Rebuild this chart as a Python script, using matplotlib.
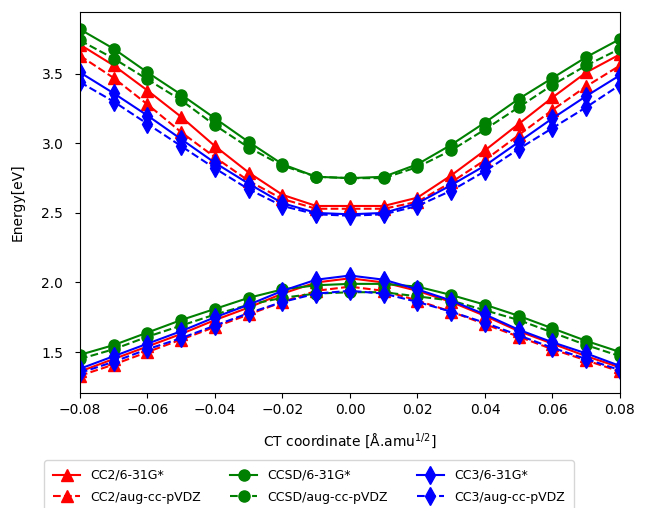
import matplotlib
matplotlib.use('Agg')
import matplotlib.pyplot as plt
import numpy as np

ct = [-0.08, -0.07, -0.06, -0.05, -0.04, -0.03, -0.02, -0.01, 0.0,
      0.01, 0.02, 0.03, 0.04, 0.05, 0.06, 0.07, 0.08]

# upper state
cc2_631_up = [3.71, 3.56, 3.38, 3.19, 2.98, 2.79, 2.63, 2.55, 2.55, 2.55, 2.61, 2.77, 2.95, 3.14, 3.33, 3.51, 3.64]
cc2_aug_up = [3.63, 3.47, 3.28, 3.08, 2.90, 2.73, 2.60, 2.53, 2.53, 2.53, 2.58, 2.72, 2.88, 3.06, 3.24, 3.41, 3.56]
ccsd_631_up = [3.82, 3.68, 3.51, 3.35, 3.18, 3.01, 2.85, 2.76, 2.75, 2.76, 2.85, 2.99, 3.15, 3.32, 3.47, 3.62, 3.75]
ccsd_aug_up = [3.74, 3.61, 3.46, 3.31, 3.13, 2.97, 2.84, 2.76, 2.75, 2.75, 2.83, 2.95, 3.10, 3.26, 3.42, 3.56, 3.68]
cc3_631_up = [3.51, 3.36, 3.20, 3.03, 2.86, 2.71, 2.57, 2.50, 2.49, 2.50, 2.57, 2.70, 2.84, 3.01, 3.18, 3.34, 3.49]
cc3_aug_up = [3.44, 3.30, 3.14, 2.98, 2.82, 2.67, 2.55, 2.49, 2.48, 2.49, 2.55, 2.66, 2.80, 2.96, 3.11, 3.26, 3.42]

# lower state
cc2_631_lo = [1.36, 1.45, 1.54, 1.63, 1.73, 1.82, 1.92, 2.00, 2.03, 2.00, 1.94, 1.86, 1.76, 1.65, 1.56, 1.47, 1.39]
cc2_aug_lo = [1.33, 1.41, 1.50, 1.59, 1.68, 1.77, 1.86, 1.94, 1.97, 1.94, 1.87, 1.79, 1.70, 1.61, 1.52, 1.44, 1.36]
ccsd_631_lo = [1.48, 1.55, 1.64, 1.73, 1.81, 1.89, 1.95, 1.98, 1.99, 1.99, 1.97, 1.91, 1.84, 1.76, 1.67, 1.58, 1.50]
ccsd_aug_lo = [1.45, 1.52, 1.61, 1.69, 1.77, 1.84, 1.89, 1.92, 1.93, 1.93, 1.90, 1.87, 1.80, 1.73, 1.64, 1.55, 1.47]
cc3_631_lo = [1.38, 1.47, 1.56, 1.65, 1.75, 1.84, 1.94, 2.02, 2.05, 2.02, 1.95, 1.87, 1.77, 1.66, 1.57, 1.49, 1.40]
cc3_aug_lo = [1.35, 1.43, 1.52, 1.60, 1.69, 1.78, 1.86, 1.92, 1.94, 1.92, 1.86, 1.79, 1.71, 1.62, 1.53, 1.45, 1.37]

series = [
	('CC2/6-31G*', cc2_631_up, cc2_631_lo, 'red', '^', '-'),
	('CC2/aug-cc-pVDZ', cc2_aug_up, cc2_aug_lo, 'red', '^', '--'),
	('CCSD/6-31G*', ccsd_631_up, ccsd_631_lo, 'green', 'o', '-'),
	('CCSD/aug-cc-pVDZ', ccsd_aug_up, ccsd_aug_lo, 'green', 'o', '--'),
	('CC3/6-31G*', cc3_631_up, cc3_631_lo, 'blue', 'd', '-'),
	('CC3/aug-cc-pVDZ', cc3_aug_up, cc3_aug_lo, 'blue', 'd', '--'),
]

fig = plt.figure(figsize=(6.54, 5.08), dpi=100)
ax = fig.add_axes([0.1223, 0.2264, 0.8257, 0.75])

for name, up, lo, col, mk, ls in series:
	ms = 9 if mk == 'd' else 8
	ax.plot(ct, up, color=col, marker=mk, ls=ls, ms=ms, lw=1.5, label=name)
	ax.plot(ct, lo, color=col, marker=mk, ls=ls, ms=ms, lw=1.5)

ax.set_xlim(-0.08, 0.08)
ax.set_xticks(np.arange(-0.08, 0.081, 0.02))
ax.set_yticks([1.5, 2.0, 2.5, 3.0, 3.5])
ax.tick_params(axis='y', pad=8.5)
ax.set_xlabel('CT coordinate [Å.amu$^{1/2}$]', labelpad=11)
ax.set_ylabel('Energy[eV]', labelpad=12)
ax.legend(loc='upper left', bbox_to_anchor=(-0.078, -0.16), ncol=3, fontsize=9,
	handlelength=2.2, columnspacing=2.3, borderpad=0.7, labelspacing=0.7)

fig.savefig('out.png', dpi=100)
